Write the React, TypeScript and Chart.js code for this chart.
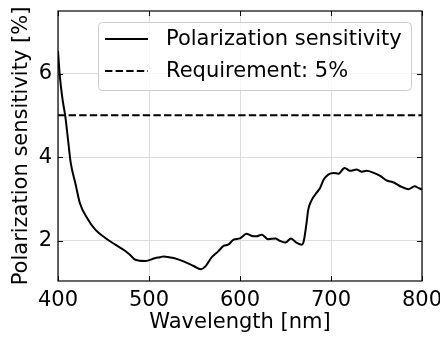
import React, { useEffect, useRef } from "react";
import { Chart, registerables } from "chart.js";

Chart.register(...registerables);

const wavelengths = [400, 402, 405, 408, 411, 414, 419, 424, 432, 441, 452, 463, 474, 479, 485, 496, 507, 512, 516, 527, 538, 549, 557, 562, 569, 576, 582, 587, 593, 600, 607, 613, 618, 624, 631, 639, 643, 650, 656, 662, 668, 670, 673, 675, 679, 684, 688, 692, 697, 703, 708, 715, 721, 728, 734, 739, 747, 754, 761, 769, 776, 785, 792, 796, 800];
const sensitivity = [6.54, 5.94, 5.38, 4.98, 4.42, 3.86, 3.38, 2.9, 2.54, 2.26, 2.06, 1.9, 1.75, 1.66, 1.54, 1.51, 1.58, 1.6, 1.62, 1.58, 1.5, 1.39, 1.31, 1.38, 1.6, 1.74, 1.87, 1.9, 2.02, 2.05, 2.16, 2.11, 2.1, 2.14, 2.03, 2.05, 2.0, 1.95, 2.05, 1.95, 1.9, 1.98, 2.4, 2.74, 2.98, 3.14, 3.26, 3.46, 3.58, 3.62, 3.6, 3.74, 3.67, 3.7, 3.65, 3.67, 3.62, 3.55, 3.44, 3.39, 3.3, 3.23, 3.3, 3.26, 3.22];
const requirement = 5;
const xTicks = [400, 500, 600, 700, 800];
const yTicks = [2, 4, 6];
const seriesLabels = ["Polarization sensitivity", "Requirement: 5%"];
const xTitle = "Wavelength [nm]";
const yTitle = "Polarization sensitivity [%]";

const FONT = "'DejaVu Sans', sans-serif";
const FS = 21;
const DASH = [7.4, 3.2];

const framePlugin = {
  id: "frameTicksLegend",
  afterDraw(chart: any) {
    const { ctx, chartArea: a, scales } = chart;
    const x = scales.x, y = scales.y;
    ctx.save();
    ctx.strokeStyle = "#000";
    ctx.lineWidth = 1;
    const tl = 5;
    ctx.beginPath();
    for (const v of xTicks) {
      const px = Math.round(x.getPixelForValue(v)) + 0.5;
      ctx.moveTo(px, a.bottom); ctx.lineTo(px, a.bottom - tl);
      ctx.moveTo(px, a.top); ctx.lineTo(px, a.top + tl);
    }
    for (const v of yTicks) {
      const py = Math.round(y.getPixelForValue(v)) + 0.5;
      ctx.moveTo(a.left, py); ctx.lineTo(a.left + tl, py);
      ctx.moveTo(a.right, py); ctx.lineTo(a.right - tl, py);
    }
    ctx.stroke();
    ctx.lineWidth = 1.2;
    ctx.strokeRect(a.left, a.top, a.right - a.left, a.bottom - a.top);

    // legend
    const bx = 98, by = 22, bw = 313, bh = 68;
    ctx.beginPath();
    (ctx as any).roundRect(bx + 0.5, by + 0.5, bw, bh, 4);
    ctx.fillStyle = "rgba(255,255,255,0.8)";
    ctx.fill();
    ctx.strokeStyle = "#cccccc";
    ctx.lineWidth = 1;
    ctx.stroke();

    const rows = [39, 71];
    ctx.strokeStyle = "#000";
    ctx.lineWidth = 2;
    rows.forEach((ry, i) => {
      ctx.setLineDash(i === 1 ? DASH : []);
      ctx.beginPath();
      ctx.moveTo(105, ry);
      ctx.lineTo(148, ry);
      ctx.stroke();
    });
    ctx.setLineDash([]);
    ctx.fillStyle = "#000";
    ctx.font = `${FS}px ${FONT}`;
    ctx.textBaseline = "middle";
    ctx.textAlign = "left";
    rows.forEach((ry, i) => ctx.fillText(seriesLabels[i], 166, ry + 1));
    ctx.restore();
  },
};

export default function App() {
  const ref = useRef<HTMLCanvasElement>(null);
  useEffect(() => {
    if (!ref.current) return;
    const chart = new Chart(ref.current, {
      type: "line",
      data: {
        datasets: [
          {
            label: seriesLabels[0],
            data: wavelengths.map((w, i) => ({ x: w, y: sensitivity[i] })),
            borderColor: "#000",
            borderWidth: 2,
            pointRadius: 0,
            cubicInterpolationMode: "monotone",
          },
          {
            label: seriesLabels[1],
            data: [{ x: 400, y: requirement }, { x: 800, y: requirement }],
            borderColor: "#000",
            borderWidth: 2,
            borderDash: DASH,
            pointRadius: 0,
          },
        ],
      },
      options: {
        animation: false,
        responsive: false,
        devicePixelRatio: 1,
        layout: { padding: { top: 11, right: 18, left: 0, bottom: 0 } },
        plugins: { legend: { display: false }, tooltip: { enabled: false } },
        scales: {
          x: {
            type: "linear",
            min: 400,
            max: 800,
            afterBuildTicks: (s: any) => { s.ticks = xTicks.map((v) => ({ value: v })); },
            afterFit: (s: any) => { s.height = 56; s.paddingLeft = 0; s.paddingRight = 0; },
            grid: { color: "#dcdcdc", lineWidth: 1, drawTicks: false },
            border: { display: false },
            ticks: { color: "#000", font: { family: FONT, size: FS }, padding: 7, maxRotation: 0 },
            title: { display: true, text: xTitle, color: "#000", font: { family: FONT, size: FS }, padding: { top: 0, bottom: 2 } },
          },
          y: {
            type: "linear",
            min: 1.03,
            max: 7.5,
            afterBuildTicks: (s: any) => { s.ticks = yTicks.map((v) => ({ value: v })); },
            afterFit: (s: any) => { s.width = 58; s.paddingTop = 0; s.paddingBottom = 0; },
            grid: { color: "#dcdcdc", lineWidth: 1, drawTicks: false },
            border: { display: false },
            ticks: { color: "#000", font: { family: FONT, size: FS }, padding: 6 },
            title: { display: true, text: yTitle, color: "#000", font: { family: FONT, size: FS }, padding: { top: 9, bottom: 0 } },
          },
        },
      },
      plugins: [framePlugin],
    });
    return () => chart.destroy();
  }, []);
  return (
    <div style={{ position: "fixed", left: 0, top: 0, width: 440, height: 337, background: "#fff" }}>
      <canvas ref={ref} width={440} height={337} />
    </div>
  );
}
